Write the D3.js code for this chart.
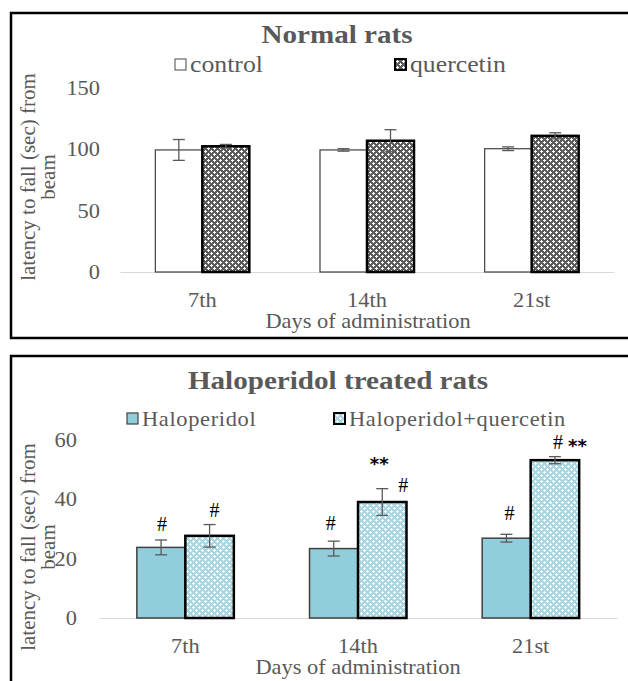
<!DOCTYPE html>
<html>
<head>
<meta charset="utf-8">
<script src="https://cdn.jsdelivr.net/npm/d3@7"></script>
<style>
  body { margin: 0; background: #fff; }
  text { font-family: "Liberation Serif", "Times New Roman", serif; }
</style>
</head>
<body>
<svg id="chart" width="628" height="681"></svg>
<script>
// data
const days = ["7th", "14th", "21st"];

const normalSeries = ["control", "quercetin"];
const normalControl = [99.5, 99.5, 100.5];
const normalControlErr = [8.5, 1, 1.5];
const normalQuercetin = [102.5, 107, 111];
const normalQuercetinErr = [1.5, 9, 2.5];
const normalTicks = [0, 50, 100, 150];

const haloSeries = ["Haloperidol", "Haloperidol+quercetin"];
const halo = [23.8, 23.4, 26.9];
const haloErr = [2.5, 2.5, 1.3];
const haloQuercetin = [27.7, 39.1, 53.2];
const haloQuercetinErr = [3.8, 4.5, 1.2];
const haloTicks = [0, 20, 40, 60];

// significance marks: day, series index, label
const haloMarks = [
    ["7th", 0, "#"], ["7th", 1, "#"],
    ["14th", 0, "#"], ["14th", 1, "**"], ["14th", 1, "#"],
    ["21st", 0, "#"], ["21st", 1, "# **"]
];
// where each mark sits relative to bar centre / error-bar top
const markOffsets = [[1, -16], [5, -15], [-3, -18], [-3, -22], [21, -4], [3, -21], [15, -15]];

const SX = 1.12; // picture is a bit stretched horizontally
const grey = "#595959";

var svg = d3.select("svg#chart");
var defs = svg.append("defs");

// small plus-sign fill, like the office "dotted diamond" patterns
function plusPattern(id, bg, fg) {
    let p = defs.append("pattern").attr("id", id)
        .attr("patternUnits", "userSpaceOnUse").attr("width", 6).attr("height", 6);
    p.append("rect").attr("width", 6).attr("height", 6).attr("fill", bg);
    [[1.5, 1.5], [4.5, 4.5]].forEach(c => {
        p.append("rect").attr("x", c[0] - 0.5).attr("y", c[1] - 1.5).attr("width", 1).attr("height", 3).attr("fill", fg);
        p.append("rect").attr("x", c[0] - 1.5).attr("y", c[1] - 0.5).attr("width", 3).attr("height", 1).attr("fill", fg);
    });
}
plusPattern("querc", "#5c5c5c", "#ffffff");
plusPattern("haloQ", "#a6d6e2", "#ffffff");

function stretchedText(g, x, y, str) {
    return g.append("text")
        .attr("transform", `translate(${x},${y}) scale(${SX},1)`)
        .text(str);
}

function panel(cfg) {
    let g = svg.append("g");

    // frame
    g.append("rect")
        .attr("x", 11).attr("y", cfg.top)
        .attr("width", 640).attr("height", cfg.frameH)
        .attr("fill", "none").attr("stroke", "#000").attr("stroke-width", 2.5);

    stretchedText(g, cfg.titleX, cfg.titleY, cfg.title)
        .attr("text-anchor", "middle")
        .attr("font-size", 26).attr("font-weight", "bold").attr("fill", grey);

    let x0 = d3.scaleBand().domain(days).range(cfg.xRange);
    let x1 = d3.scaleBand().domain([0, 1]).range([0, 2 * cfg.barW]);
    let y = d3.scaleLinear().domain([0, d3.max(cfg.ticks)]).range(cfg.yRange);

    // x axis (baseline + day labels)
    let xAxis = g.append("g")
        .attr("transform", `translate(0,${cfg.yRange[0]})`)
        .call(d3.axisBottom(x0).tickSize(0).tickSizeOuter(0).tickPadding(21));
    xAxis.select(".domain").attr("stroke", "#d9d9d9");
    xAxis.selectAll("text")
        .attr("font-family", "Liberation Serif").attr("font-size", 20).attr("fill", grey)
        .attr("transform", `scale(${SX},1)`);

    // y axis labels only
    let yAxis = g.append("g")
        .attr("transform", `translate(${cfg.yLabelX},0)`)
        .call(d3.axisLeft(y).tickValues(cfg.ticks).tickSize(0).tickPadding(0));
    yAxis.select(".domain").remove();
    yAxis.selectAll("text")
        .attr("font-family", "Liberation Serif").attr("font-size", 20).attr("fill", grey)
        .attr("transform", `scale(${SX},1)`);

    // bars
    let rows = [];
    days.forEach((d, i) => {
        cfg.series.forEach((s, j) => {
            rows.push({day: d, s: j, v: cfg.values[j][i], e: cfg.errs[j][i]});
        });
    });
    const groupLeft = d => x0(d.day) + x0.bandwidth() / 2 - cfg.barW + x1(d.s);

    g.selectAll("rect.bar").data(rows).enter().append("rect")
        .attr("class", "bar")
        .attr("x", groupLeft)
        .attr("y", d => y(d.v))
        .attr("width", cfg.barW)
        .attr("height", d => y(0) - y(d.v))
        .attr("fill", d => cfg.fills[d.s])
        .attr("stroke", d => cfg.strokes[d.s])
        .attr("stroke-width", d => cfg.strokeW[d.s]);

    // error bars
    let eb = g.selectAll("g.err").data(rows).enter().append("g")
        .attr("class", "err")
        .attr("stroke", grey).attr("stroke-width", 1.3);
    eb.append("line")
        .attr("x1", d => groupLeft(d) + cfg.barW / 2).attr("x2", d => groupLeft(d) + cfg.barW / 2)
        .attr("y1", d => y(d.v + d.e)).attr("y2", d => y(d.v - d.e));
    eb.append("line")
        .attr("x1", d => groupLeft(d) + cfg.barW / 2 - 6).attr("x2", d => groupLeft(d) + cfg.barW / 2 + 6)
        .attr("y1", d => y(d.v + d.e)).attr("y2", d => y(d.v + d.e));
    eb.append("line")
        .attr("x1", d => groupLeft(d) + cfg.barW / 2 - 6).attr("x2", d => groupLeft(d) + cfg.barW / 2 + 6)
        .attr("y1", d => y(d.v - d.e)).attr("y2", d => y(d.v - d.e));

    // legend
    cfg.series.forEach((s, j) => {
        let lx = cfg.legendX[j];
        g.append("rect")
            .attr("x", lx).attr("y", cfg.legendY - 12)
            .attr("width", 11).attr("height", 11)
            .attr("fill", cfg.fills[j]).attr("stroke", cfg.strokes[j])
            .attr("stroke-width", cfg.strokeW[j] * 0.8);
        stretchedText(g, lx + 15, cfg.legendY + 1, s)
            .attr("font-size", cfg.legendSize).attr("fill", grey)
            .attr("letter-spacing", cfg.legendSpacing);
    });

    // axis titles
    stretchedText(g, cfg.xTitleX, cfg.xTitleY, "Days of administration")
        .attr("text-anchor", "middle").attr("font-size", 20).attr("fill", grey);

    let yt = g.append("g")
        .attr("transform", `translate(35,${cfg.yTitleY}) rotate(-90)`)
        .attr("fill", grey).attr("font-size", 21).attr("text-anchor", "middle");
    yt.append("text").text("latency to fall (sec) from");
    yt.append("text").attr("y", 20).text("beam");

    return {g: g, x0: x0, x1: x1, y: y, rows: rows, groupLeft: groupLeft};
}

panel({
    top: 13, frameH: 325,
    title: "Normal rats", titleX: 337, titleY: 43,
    xRange: [120, 614], yRange: [272, 88], barW: 47,
    ticks: normalTicks, yLabelX: 100,
    series: normalSeries,
    values: [normalControl, normalQuercetin],
    errs: [normalControlErr, normalQuercetinErr],
    fills: ["#ffffff", "url(#querc)"],
    strokes: ["#404040", "#000000"],
    strokeW: [1.2, 2.5],
    legendX: [175, 395], legendY: 71, legendSize: 23, legendSpacing: 0,
    xTitleX: 368, xTitleY: 328, yTitleY: 177
});

var hp = panel({
    top: 356, frameH: 340,
    title: "Haloperidol treated rats", titleX: 338, titleY: 389,
    xRange: [99, 617], yRange: [618, 440], barW: 48.5,
    ticks: haloTicks, yLabelX: 77,
    series: haloSeries,
    values: [halo, haloQuercetin],
    errs: [haloErr, haloQuercetinErr],
    fills: ["#92cddc", "url(#haloQ)"],
    strokes: ["#404040", "#000000"],
    strokeW: [1.5, 2.5],
    legendX: [127, 334], legendY: 425, legendSize: 20, legendSpacing: 0.6,
    xTitleX: 358, xTitleY: 674, yTitleY: 547
});

// significance marks on the haloperidol panel
haloMarks.forEach((m, i) => {
    let row = hp.rows.find(r => r.day === m[0] && r.s === m[1]);
    let cx = hp.groupLeft(row) + 48.5 / 2 + markOffsets[i][0];
    let cy = hp.y(row.v + row.e) + markOffsets[i][1];
    let t = hp.g.append("text")
        .attr("x", cx).attr("y", cy).attr("dy", "0.35em")
        .attr("text-anchor", "middle").attr("font-size", 20).attr("fill", "#000");
    m[2].split(/(\*+)/).filter(p => p.length).forEach(p => {
        if (p.startsWith("*")) {
            t.append("tspan").attr("font-family", "DejaVu Sans").attr("font-weight", "bold")
                .attr("font-size", 18).attr("dy", 3).text(p);
        } else {
            t.append("tspan").text(p);
        }
    });
});
</script>
</body>
</html>
